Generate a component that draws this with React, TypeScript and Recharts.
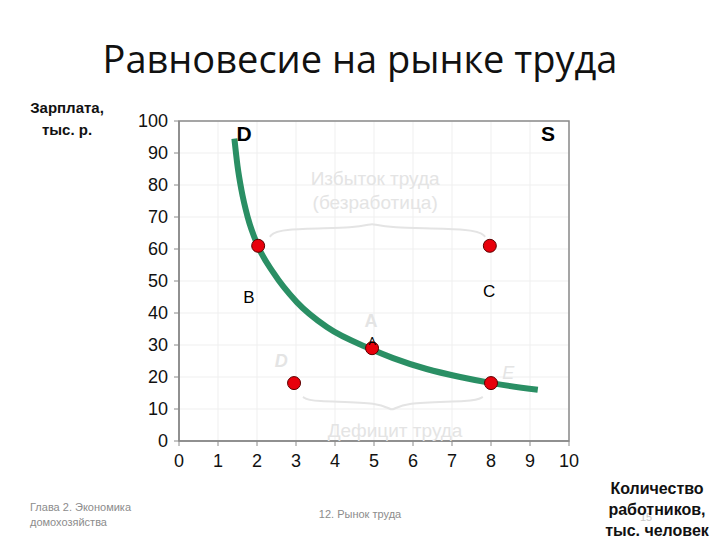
import {
  ComposedChart, CartesianGrid, Line, ReferenceArea, ReferenceDot,
  Scatter, XAxis, YAxis,
} from "recharts";

// values
const xTicks = [0, 1, 2, 3, 4, 5, 6, 7, 8, 9, 10];
const yTicks = [0, 10, 20, 30, 40, 50, 60, 70, 80, 90, 100];

const demandX = [1.42, 1.5, 1.6, 1.76, 2.01, 2.42, 3.02, 3.79, 4.95, 5.49, 6.35, 7.21, 8.06, 9.2];
const demandY = [94.5, 86, 78.5, 70, 61.3, 52.6, 43.4, 35.6, 28.6, 25.9, 22.5, 20.0, 18.0, 16.0];

const pointNames = ["B", "C", "A", "D", "E"];
const pointX = [2.03, 7.97, 4.95, 2.95, 8.0];
const pointY = [61, 61, 29, 18.1, 18.1];

// curly braces (annotation)
const upperBraceX = [2.33, 2.5, 4.7, 4.95, 5.2, 7.65, 7.85];
const upperBraceY = [63.8, 66.5, 66.5, 68.4, 66.5, 66.5, 63.8];
const lowerBraceX = [3.18, 3.35, 5.25, 5.46, 5.67, 7.6, 7.79];
const lowerBraceY = [13.8, 12.2, 12.2, 8.75, 12.2, 12.2, 13.8];

const demand = demandX.map((x, i) => ({ x, y: demandY[i] }));
const points = pointX.map((x, i) => ({ x, y: pointY[i], name: pointNames[i] }));
const upperBrace = upperBraceX.map((x, i) => ({ x, y: upperBraceY[i] }));
const lowerBrace = lowerBraceX.map((x, i) => ({ x, y: lowerBraceY[i] }));

const FONT = "'Liberation Sans', Arial, sans-serif";
const FAINT = "#e4e4e4";

interface Lbl { x: number; y: number; text: string; size: number; color: string; bold?: boolean; italic?: boolean; }

const labels: Lbl[] = [
  { x: 1.67, y: 96.2, text: "D", size: 21, color: "#000", bold: true },
  { x: 9.46, y: 96.2, text: "S", size: 21, color: "#000", bold: true },
  { x: 1.79, y: 45, text: "B", size: 17, color: "#000" },
  { x: 7.95, y: 46.9, text: "C", size: 17, color: "#000" },
  { x: 4.95, y: 31.2, text: "A", size: 11, color: "#000" },
  { x: 4.92, y: 37.5, text: "A", size: 18, color: FAINT, bold: true },
  { x: 2.62, y: 25, text: "D", size: 18, color: FAINT, bold: true, italic: true },
  { x: 8.44, y: 21.3, text: "E", size: 18, color: FAINT, italic: true },
  { x: 5.03, y: 82.2, text: "Избыток труда", size: 19, color: FAINT },
  { x: 5.03, y: 74.7, text: "(безработица)", size: 19, color: FAINT },
  { x: 5.54, y: 3.4, text: "Дефицит труда", size: 19, color: FAINT },
];

function RedDot(props: any) {
  const { cx, cy } = props;
  return <circle cx={cx} cy={cy} r={6.5} fill="#e8000b" stroke="#5a0000" strokeWidth={1} />;
}

export default function App() {
  return (
    <div style={{ position: "absolute", left: 0, top: 0, width: 720, height: 540, background: "#fff", overflow: "hidden" }}>
      <div style={{ position: "absolute", left: 0, top: 32, width: 720, textAlign: "center", fontFamily: "'Open Sans', 'Noto Sans', sans-serif", fontSize: 38, color: "#111" }}>
        Равновесие на рынке труда
      </div>
      <div style={{ position: "absolute", left: 22, top: 97, width: 90, textAlign: "center", fontFamily: FONT, fontSize: 15, fontWeight: 700, lineHeight: "22px", color: "#111" }}>
        Зарплата,<br />тыс. р.
      </div>

      <div style={{ position: "absolute", left: 0, top: 0 }}>
        <ComposedChart width={720} height={540} margin={{ top: 121, right: 151, bottom: 69, left: 114 }}>
          <CartesianGrid stroke="#efefef" strokeWidth={1} verticalValues={xTicks} horizontalValues={yTicks} />
          <XAxis type="number" dataKey="x" domain={[0, 10]} ticks={xTicks} interval={0} height={30}
            axisLine={{ stroke: "#8a8a8a", strokeWidth: 1.5 }} tickLine={{ stroke: "#8a8a8a" }} tickSize={5}
            tick={{ fill: "#111", fontSize: 18, fontFamily: FONT }} tickMargin={8} allowDataOverflow />
          <YAxis type="number" dataKey="y" domain={[0, 100]} ticks={yTicks} interval={0} width={65}
            axisLine={{ stroke: "#8a8a8a", strokeWidth: 1.5 }} tickLine={{ stroke: "#8a8a8a" }} tickSize={5}
            tick={{ fill: "#111", fontSize: 18, fontFamily: FONT }} tickMargin={6} allowDataOverflow />
          <ReferenceArea x1={0} x2={10} y1={0} y2={100} fill="none" stroke="#8a8a8a" strokeWidth={1.5} fillOpacity={0} />
          <Line data={upperBrace} dataKey="y" type="basis" stroke={FAINT} strokeWidth={2} dot={false} isAnimationActive={false} />
          <Line data={lowerBrace} dataKey="y" type="basis" stroke={FAINT} strokeWidth={2} dot={false} isAnimationActive={false} />
          {labels.map((l, i) => (
            <ReferenceDot key={i} x={l.x} y={l.y} r={0} fill="none" stroke="none"
              label={{
                value: l.text, position: "center", fill: l.color, fontSize: l.size,
                fontFamily: FONT, fontWeight: l.bold ? 700 : 400, fontStyle: l.italic ? "italic" : "normal",
              }} />
          ))}
          <Line data={demand} dataKey="y" type="monotone" stroke="#2a8f64" strokeWidth={6} dot={false} isAnimationActive={false} />
          <Scatter data={points} dataKey="y" shape={RedDot} isAnimationActive={false} />
        </ComposedChart>
      </div>

      <div style={{ position: "absolute", left: 30, top: 500, fontFamily: FONT, fontSize: 11, lineHeight: "15px", color: "#8c8c8c" }}>
        Глава 2. Экономика<br />домохозяйства
      </div>
      <div style={{ position: "absolute", left: 260, top: 508, width: 200, textAlign: "center", fontFamily: FONT, fontSize: 11, color: "#8c8c8c" }}>
        12. Рынок труда
      </div>
      <div style={{ position: "absolute", left: 640, top: 511, fontFamily: FONT, fontSize: 11, color: "#c8c8c8" }}>15</div>
      <div style={{ position: "absolute", left: 590, top: 478, width: 134, textAlign: "center", fontFamily: FONT, fontSize: 16, lineHeight: "21px", fontWeight: 700, color: "#111" }}>
        Количество<br />работников,<br />тыс. человек
      </div>
    </div>
  );
}
